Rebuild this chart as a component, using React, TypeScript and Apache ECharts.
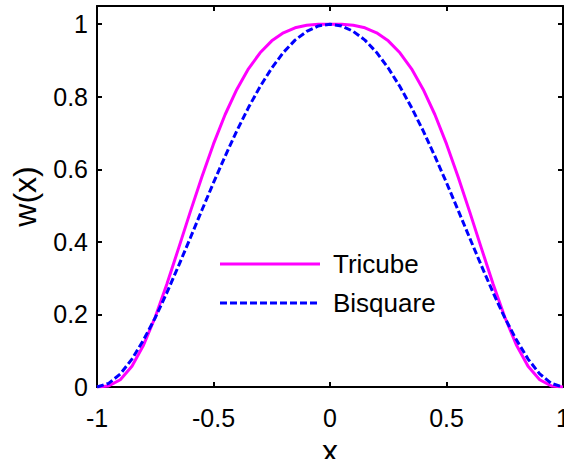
import React, { useEffect, useRef } from "react";
import * as echarts from "echarts";

// Sample positions along x
const xs: number[] = [
  -1, -0.95, -0.9, -0.85, -0.8, -0.75, -0.7, -0.65, -0.6, -0.55, -0.5,
  -0.45, -0.4, -0.35, -0.3, -0.25, -0.2, -0.15, -0.1, -0.05, 0,
  0.05, 0.1, 0.15, 0.2, 0.25, 0.3, 0.35, 0.4, 0.45, 0.5,
  0.55, 0.6, 0.65, 0.7, 0.75, 0.8, 0.85, 0.9, 0.95, 1,
];

// Tricube weights
const tricube: number[] = [
  0, 0.003, 0.02, 0.057, 0.116, 0.193, 0.284, 0.382, 0.482, 0.579, 0.67,
  0.751, 0.82, 0.877, 0.921, 0.954, 0.976, 0.99, 0.997, 1.0, 1,
  1.0, 0.997, 0.99, 0.976, 0.954, 0.921, 0.877, 0.82, 0.751, 0.67,
  0.579, 0.482, 0.382, 0.284, 0.193, 0.116, 0.057, 0.02, 0.003, 0,
];

// Bisquare weights
const bisquare: number[] = [
  0, 0.01, 0.036, 0.077, 0.13, 0.191, 0.26, 0.334, 0.41, 0.487, 0.563,
  0.636, 0.706, 0.77, 0.828, 0.879, 0.922, 0.956, 0.98, 0.995, 1,
  0.995, 0.98, 0.956, 0.922, 0.879, 0.828, 0.77, 0.706, 0.636, 0.563,
  0.487, 0.41, 0.334, 0.26, 0.191, 0.13, 0.077, 0.036, 0.01, 0,
];

const seriesNames: string[] = ["Tricube", "Bisquare"];
const seriesColors: string[] = ["#ff00ff", "#0000ff"];

const FONT = "Liberation Sans, Arial, sans-serif";
const TICK = { show: true, inside: true, length: 5, lineStyle: { color: "#000", width: 2 } };
const LINE = { show: true, onZero: false, lineStyle: { color: "#000", width: 2 } };

export default function App() {
  const ref = useRef<HTMLDivElement>(null);

  useEffect(() => {
    if (!ref.current) return;
    const chart = echarts.init(ref.current, null, { renderer: "svg" });

    // hand-drawn legend (line sample + label), no frame
    const legendX = 220;
    const legendY = [264, 303];
    const legendGraphics: any[] = [];
    seriesNames.forEach((name, i) => {
      legendGraphics.push({
        type: "line",
        shape: { x1: legendX, y1: legendY[i], x2: legendX + 100, y2: legendY[i] },
        style: {
          stroke: seriesColors[i],
          lineWidth: 3,
          lineDash: i === 1 ? [7, 3] : null,
        },
        silent: true,
      });
      legendGraphics.push({
        type: "text",
        x: legendX + 113,
        y: legendY[i],
        style: {
          text: name,
          font: `26px ${FONT}`,
          fill: "#000",
          verticalAlign: "middle",
        },
        silent: true,
      });
    });

    chart.setOption({
      animation: false,
      backgroundColor: "#fff",
      grid: { left: 97, top: 6, width: 466, height: 381, outerBoundsMode: "none", containLabel: false },
      graphic: legendGraphics,
      xAxis: [
        {
          type: "value",
          min: -1,
          max: 1,
          interval: 0.5,
          name: "x",
          nameLocation: "middle",
          nameGap: 48,
          nameTextStyle: { fontFamily: FONT, fontSize: 32, color: "#000" },
          axisLine: LINE,
          axisTick: TICK,
          axisLabel: { fontFamily: FONT, fontSize: 25, color: "#000", margin: 18 },
          splitLine: { show: false },
        },
        {
          type: "value",
          position: "top",
          min: -1,
          max: 1,
          interval: 0.5,
          axisLine: LINE,
          axisTick: TICK,
          axisLabel: { show: false },
          splitLine: { show: false },
        },
      ],
      yAxis: [
        {
          type: "value",
          min: 0,
          max: 1.05,
          interval: 0.2,
          name: "w(x)",
          nameLocation: "middle",
          nameGap: 56,
          nameTextStyle: { fontFamily: FONT, fontSize: 32, color: "#000" },
          axisLine: LINE,
          axisTick: TICK,
          axisLabel: {
            fontFamily: FONT,
            fontSize: 25,
            color: "#000",
            margin: 9,
            showMaxLabel: false,
            formatter: (v: number) => String(Math.round(v * 10) / 10),
          },
          splitLine: { show: false },
        },
        {
          type: "value",
          position: "right",
          min: 0,
          max: 1.05,
          interval: 0.2,
          axisLine: LINE,
          axisTick: TICK,
          axisLabel: { show: false },
          splitLine: { show: false },
        },
      ],
      series: [
        {
          name: seriesNames[0],
          type: "line",
          symbol: "none",
          data: xs.map((x, i) => [x, tricube[i]]),
          lineStyle: { color: seriesColors[0], width: 3 },
          itemStyle: { color: seriesColors[0] },
        },
        {
          name: seriesNames[1],
          type: "line",
          symbol: "none",
          data: xs.map((x, i) => [x, bisquare[i]]),
          lineStyle: { color: seriesColors[1], width: 3, type: [7, 3] },
          itemStyle: { color: seriesColors[1] },
        },
      ],
    });

    return () => chart.dispose();
  }, []);

  return (
    <div
      ref={ref}
      style={{ position: "fixed", left: 0, top: 0, width: 564, height: 459, background: "#fff" }}
    />
  );
}
